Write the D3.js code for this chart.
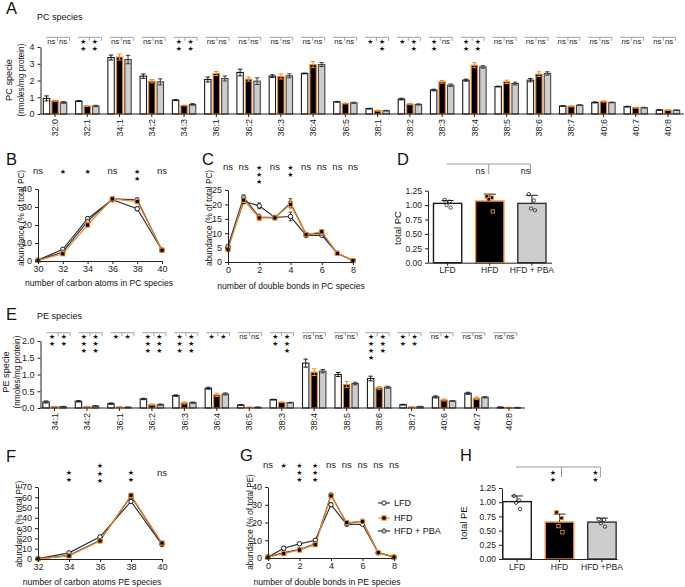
<!DOCTYPE html>
<html><head><meta charset="utf-8">
<script src="https://cdn.jsdelivr.net/npm/d3@7"></script>
<style>
body{margin:0;background:#fff;}
svg{font-family:"Liberation Sans",Arial,Helvetica,sans-serif;}
</style></head><body><svg id="c" width="685" height="587"></svg>
<script>
// ---------------- DATA ----------------
const groupKeys = ["LFD","HFD","PBA"];
const groupLabels = ["LFD","HFD","HFD + PBA"];
const groupLabelsH = ["LFD","HFD","HFD +PBA"];

// Panel A: PC species (nmoles/mg protein)
const pcSpecies = ["32:0","32:1","34:1","34:2","34:3","36:1","36:2","36:3","36:4","36:5","38:1","38:2","38:3","38:4","38:5","38:6","38:7","40:6","40:7","40:8"];
const pcLFD = [0.93,0.77,3.37,2.26,0.83,2.06,2.48,2.26,2.42,0.73,0.32,0.89,1.43,2.02,1.64,2.02,0.48,0.69,0.44,0.24];
const pcHFD = [0.79,0.48,3.40,1.96,0.51,2.42,2.08,2.24,2.95,0.63,0.20,0.59,1.92,2.91,1.92,2.38,0.46,0.75,0.38,0.23];
const pcPBA = [0.69,0.48,3.25,1.92,0.57,2.12,1.96,2.28,2.95,0.67,0.20,0.57,1.72,2.81,1.82,2.42,0.53,0.69,0.38,0.23];
const pcLFDErr = [0.15,0.03,0.15,0.13,0.03,0.15,0.2,0.08,0.02,0.02,0.02,0.05,0.05,0.06,0.02,0.1,0.02,0.03,0.02,0.02];
const pcHFDErr = [0.03,0.03,0.18,0.1,0.02,0.12,0.12,0.15,0.18,0.03,0.03,0.04,0.08,0.15,0.1,0.14,0.03,0.04,0.03,0.02];
const pcPBAErr = [0.05,0.04,0.25,0.18,0.05,0.15,0.2,0.12,0.12,0.03,0.02,0.03,0.07,0.07,0.08,0.1,0.02,0.02,0.02,0.01];
const pcSigL = ["ns","**","ns","ns","**","ns","ns","ns","ns","ns","*","*","**","**","ns","ns","ns","ns","ns","ns"];
const pcSigR = ["ns","**","ns","ns","**","ns","ns","ns","ns","ns","**","**","ns","**","ns","ns","ns","ns","ns","ns"];
const pcYTicks = [0,1,2,3,4];

// Panel B: PC by carbon atoms
const pcCarbon = [30,32,34,36,38,40];
const pcCarbonLFD = [0.5,6.5,23.5,34,29,6];
const pcCarbonHFD = [0.3,4,20,34.5,33,6];
const pcCarbonPBA = [0.4,5,22,34.5,34,6];
const pcCarbonErr = [0.2,0.6,1,0.6,1,0.3];
const pcCarbonSig = ["ns","*","*","ns","**","ns"];

// Panel C: PC by double bonds
const pcDB = [0,1,2,3,4,5,6,7,8];
const pcDBLFD = [5,21,19.5,15.5,15.8,9.2,9.3,3,0.5];
const pcDBHFD = [4.3,21.5,15.3,15.3,20,9.5,10.5,3,0.5];
const pcDBPBA = [5.5,22.5,15.6,15.4,20.5,9.6,10,3,0.5];
const pcDBErr = [0.5,0.8,1,0.4,1.5,0.5,0.5,0.3,0.2];
const pcDBSig = ["ns","ns","***","ns","**","ns","ns","ns","ns"];

// Panel D: total PC
const totalPC = [1.03,1.07,1.03];
const totalPCErr = [0.05,0.12,0.14];
const totalPCPts = [[1.09,1.06,1.00,0.955],[1.15,1.13,1.10,0.89],[1.19,1.08,0.94,0.91]];
const totalPCSig = ["ns","ns"];
const totalYTicks = [0,0.25,0.5,0.75,1.0,1.25];

// Panel E: PE species
const peSpecies = ["34:1","34:2","36:1","36:2","36:3","36:4","36:5","38:3","38:4","38:5","38:6","38:7","40:6","40:7","40:8"];
const peLFD = [0.18,0.20,0.13,0.27,0.37,0.59,0.09,0.25,1.34,1.00,0.88,0.10,0.33,0.44,0.02];
const peHFD = [0.04,0.04,0.03,0.10,0.15,0.39,0.02,0.17,1.07,0.70,0.60,0.03,0.24,0.29,0.01];
const pePBA = [0.04,0.06,0.02,0.10,0.16,0.42,0.02,0.16,1.10,0.73,0.62,0.04,0.21,0.32,0.01];
const peLFDErr = [0.03,0.02,0.02,0.02,0.02,0.03,0.01,0.01,0.12,0.06,0.07,0.01,0.03,0.03,0.01];
const peHFDErr = [0.01,0.01,0.01,0.02,0.03,0.05,0.01,0.01,0.1,0.09,0.04,0.01,0.03,0.04,0.01];
const pePBAErr = [0.01,0.01,0.01,0.02,0.02,0.03,0.01,0.01,0.05,0.04,0.03,0.01,0.01,0.02,0.01];
const peSigL = ["**","***","*","***","***","*","ns","**","ns","ns","****","**","ns","ns","ns"];
const peSigR = ["**","***","*","***","***","*","ns","***","ns","ns","***","**","*","ns","ns"];
const peYTicks = [0,0.5,1.0,1.5,2.0];

// Panel F: PE by carbon atoms
const peCarbon = [32,34,36,38,40];
const peCarbonLFD = [0.3,6,21.5,56,14];
const peCarbonHFD = [0.2,3,17.5,62,15.5];
const peCarbonPBA = [0.2,3.5,18,61,15];
const peCarbonErr = [0.2,0.8,1,1.5,0.8];
const peCarbonSig = ["","**","***","**","ns"];

// Panel G: PE by double bonds
const peDB = [0,1,2,3,4,5,6,7,8];
const peDBLFD = [0.5,5.5,8,10,30,19,19,3,0.5];
const peDBHFD = [0.5,2.5,4.5,7.5,35,20,20.5,3,0.5];
const peDBPBA = [0.5,3,4.8,8,35.5,19.5,20.8,3,0.5];
const peDBErr = [0.2,1,0.5,0.5,1,0.5,0.5,0.3,0.2];
const peDBSig = ["ns","*","***","***","ns","ns","ns","ns","ns"];

// Panel H: total PE
const totalPE = [1.01,0.65,0.65];
const totalPEErr = [0.10,0.14,0.07];
const totalPEPts = [[1.11,1.03,0.99,0.88],[0.82,0.72,0.58,0.47],[0.70,0.69,0.63,0.57]];
const totalPESig = ["**","**"];

// ---------------- STYLE ----------------
const ORANGE = "#ef8a2c";
const ST = {
  LFD:{fill:"#fff", stroke:"#1a1a1a", line:"#333", err:"#1a1a1a", shape:"circle", ptFill:"#fff"},
  HFD:{fill:"#000", stroke:ORANGE, line:ORANGE, err:ORANGE, shape:"square", ptFill:"#000"},
  PBA:{fill:"#cdcdcd", stroke:"#444", line:"#3a3a3a", err:"#3a3a3a", shape:"circle", ptFill:"#bdbdbd"}
};
const svg = d3.select("#c");

function letter(t,x,y){ svg.append("text").attr("x",x).attr("y",y).attr("font-size",16.5).attr("fill","#111").text(t); }
function styleAxis(g,fs){
  g.selectAll("path,line").attr("stroke","#222").attr("stroke-width",1);
  g.selectAll("text").attr("font-size",fs||8.5).attr("fill","#222").attr("font-family",'"Liberation Sans",Arial,sans-serif');
}
function sigMark(g, label, cx, topY, fs, rowStep, starFs){
  if(!label) return;
  if(label==="ns"){
    g.append("text").attr("x",cx).attr("y",topY).attr("dy","0.35em").attr("text-anchor","middle")
      .attr("font-size",fs).attr("fill","#222").text("ns");
  } else {
    for(let i=0;i<label.length;i++){
      g.append("text").attr("x",cx).attr("y",topY+i*rowStep).attr("dy","0.36em").attr("text-anchor","middle")
        .attr("font-size",starFs).attr("fill","#111").attr("font-family","DejaVu Sans").text("\u2605");
    }
  }
}
function marker(g,k,x,y,size){
  const s=ST[k];
  if(s.shape==="square"){
    g.append("rect").attr("x",x-size).attr("y",y-size).attr("width",2*size).attr("height",2*size)
      .attr("fill",s.ptFill).attr("stroke",s.stroke).attr("stroke-width",1);
  } else {
    g.append("circle").attr("cx",x).attr("cy",y).attr("r",size).attr("fill",s.ptFill).attr("stroke",s.stroke).attr("stroke-width",1);
  }
}

// ---------------- SPECIES BAR PANELS ----------------
function speciesPanel(o){
  const g = svg.append("g");
  const x = d3.scaleBand().domain(o.cats).range(o.xRange);
  const y = d3.scaleLinear().domain(o.yDomain).range(o.yRange);
  const bw = 6.4, off = 8.5;
  groupKeys.forEach((k,ki)=>{
    const s = ST[k];
    o.cats.forEach((c,i)=>{
      const cx = x(c)+x.bandwidth()/2+(ki-1)*off;
      const v = o.vals[ki][i], e = o.errs[ki][i];
      g.append("line").attr("x1",cx).attr("x2",cx).attr("y1",y(v)).attr("y2",y(v+e)).attr("stroke",s.err).attr("stroke-width",1);
      g.append("line").attr("x1",cx-2.2).attr("x2",cx+2.2).attr("y1",y(v+e)).attr("y2",y(v+e)).attr("stroke",s.err).attr("stroke-width",1);
      g.append("rect").attr("x",cx-bw/2).attr("width",bw).attr("y",y(v)).attr("height",y(0)-y(v))
        .attr("fill",s.fill).attr("stroke",s.stroke).attr("stroke-width",1.1);
      g.append("line").attr("x1",cx).attr("x2",cx).attr("y1",y(v)).attr("y2",y(Math.max(0,v-e))).attr("stroke",s.err).attr("stroke-width",1);
      g.append("line").attr("x1",cx-2.2).attr("x2",cx+2.2).attr("y1",y(Math.max(0,v-e))).attr("y2",y(Math.max(0,v-e))).attr("stroke",s.err).attr("stroke-width",1);
    });
  });
  const ya = g.append("g").attr("transform",`translate(${o.axisX},0)`)
    .call(d3.axisLeft(y).tickValues(o.yTicks).tickSize(3).tickSizeOuter(0).tickFormat(o.fmt));
  styleAxis(ya,9);
  const xa = g.append("g").attr("transform",`translate(0,${o.yRange[0]})`)
    .call(d3.axisBottom(x).tickSize(3).tickSizeOuter(0));
  xa.select(".domain").remove();
  xa.selectAll(".tick text").attr("transform","rotate(-90)").attr("x",-5).attr("y",0).attr("dy","0.35em").style("text-anchor","end");
  styleAxis(xa,9);
  g.append("line").attr("x1",o.axisX).attr("x2",o.axisEnd).attr("y1",o.yRange[0]).attr("y2",o.yRange[0]).attr("stroke","#222");
  o.cats.forEach((c,i)=>{
    const ax = o.a0 + i*o.aStep, ay = o.aY, w = 23.5;
    g.append("path").attr("d",`M${ax},${ay}H${ax+w}V${ay+3.5}M${ax+11.5},${ay}V${ay+3.5}`)
      .attr("fill","none").attr("stroke","#9a9a9a").attr("stroke-width",0.9);
    sigMark(g,o.sigL[i],ax+5.3,ay+3.8,7.8,7,6.8);
    sigMark(g,o.sigR[i],ax+17,ay+3.8,7.8,7,6.8);
  });
  svg.append("text").attr("x",o.titleX).attr("y",o.titleY).attr("font-size",9).attr("fill","#111").text(o.title);
  [[o.yLab1,o.yLabX1,9.2],[o.yLab2,o.yLabX2,8.2]].forEach(([t,xx,fs])=>{
    svg.append("text").attr("transform",`translate(${xx},${o.yLabY}) rotate(-90)`).attr("text-anchor","middle")
      .attr("dy","0.35em").attr("font-size",fs).attr("fill","#111").text(t);
  });
}

speciesPanel({cats:pcSpecies, vals:[pcLFD,pcHFD,pcPBA], errs:[pcLFDErr,pcHFDErr,pcPBAErr],
  sigL:pcSigL, sigR:pcSigR, xRange:[38.9,684.1], yDomain:[0,4], yRange:[114,47], yTicks:pcYTicks, fmt:d3.format("d"),
  axisX:40.5, axisEnd:684, a0:46, aStep:31.9, aY:37.3, title:"PC species", titleX:37, titleY:20,
  yLab1:"PC specie", yLab2:"(nmoles/mg protein)", yLabX1:8.5, yLabX2:21.5, yLabY:80});

speciesPanel({cats:peSpecies, vals:[peLFD,peHFD,pePBA], errs:[peLFDErr,peHFDErr,pePBAErr],
  sigL:peSigL, sigR:peSigR, xRange:[38.3,525.2], yDomain:[0,2], yRange:[408,341], yTicks:peYTicks, fmt:d3.format(".1f"),
  axisX:40.5, axisEnd:525, a0:46.7, aStep:31.9, aY:332.7, title:"PE species", titleX:37, titleY:319,
  yLab1:"PE specie", yLab2:"(nmoles/mg protein)", yLabX1:5.5, yLabX2:17.5, yLabY:372});

// ---------------- LINE PANELS ----------------
function linePanel(o){
  const g = svg.append("g");
  const x = d3.scaleLinear().domain(o.xDomain).range(o.xRange);
  const y = d3.scaleLinear().domain(o.yDomain).range(o.yRange);
  const order = ["LFD","PBA","HFD"];
  const line = d3.line().x(d=>x(d[0])).y(d=>y(d[1]));
  order.forEach(k=>{
    const ki = groupKeys.indexOf(k), vals = o.series[ki];
    const pts = o.xs.map((xv,i)=>[xv,vals[i]]);
    g.append("path").attr("d",line(pts)).attr("fill","none").attr("stroke",ST[k].line).attr("stroke-width",1.2);
  });
  order.forEach(k=>{
    const ki = groupKeys.indexOf(k), vals = o.series[ki];
    o.xs.forEach((xv,i)=>{
      const e=o.err[i], cx=x(xv);
      g.append("path").attr("d",`M${cx-1.8},${y(vals[i]+e)}H${cx+1.8}M${cx},${y(vals[i]+e)}V${y(vals[i]-e)}M${cx-1.8},${y(vals[i]-e)}H${cx+1.8}`)
        .attr("stroke",ST[k].err).attr("stroke-width",0.9).attr("fill","none");
      marker(g,k,cx,y(vals[i]),k==="HFD"?2.1:2.2);
    });
  });
  const ya = g.append("g").attr("transform",`translate(${o.xRange[0]},0)`)
    .call(d3.axisLeft(y).tickValues(o.yTicks).tickSize(3).tickSizeOuter(0));
  styleAxis(ya,9);
  const xa = g.append("g").attr("transform",`translate(0,${o.yRange[0]})`)
    .call(d3.axisBottom(x).tickValues(o.xTicks).tickSize(3).tickSizeOuter(0).tickFormat(d3.format("d")));
  styleAxis(xa,9);
  xa.selectAll(".tick text").attr("y",4.5);
  o.sig.forEach((s,i)=>{
    if(!s) return;
    const top = o.sigY - (o.shift3 && s.length===3 ? 6.5 : 0);
    sigMark(g,s,x(o.xs[i]),top,9.5,7.2,7);
  });
  svg.append("text").attr("x",o.xTitleX).attr("y",o.xTitleY).attr("text-anchor","middle").attr("font-size",8.6).attr("fill","#111").text(o.xTitle);
  svg.append("text").attr("transform",`translate(${o.yTitleX},${o.yTitleY}) rotate(-90)`).attr("text-anchor","middle")
    .attr("dy","0.35em").attr("font-size",8.2).attr("fill","#111").text(o.yTitle);
}

linePanel({xs:pcCarbon, series:[pcCarbonLFD,pcCarbonHFD,pcCarbonPBA], err:pcCarbonErr, sig:pcCarbonSig,
  xDomain:[30,40], xRange:[38,162], yDomain:[0,40], yRange:[261,189], yTicks:[0,10,20,30,40], xTicks:pcCarbon,
  sigY:171, xTitle:"number of carbon atoms in PC species", xTitleX:99, xTitleY:286,
  yTitle:"abundance (% of total PC)", yTitleX:21, yTitleY:218});

linePanel({xs:pcDB, series:[pcDBLFD,pcDBHFD,pcDBPBA], err:pcDBErr, sig:pcDBSig,
  xDomain:[0,8], xRange:[228,353], yDomain:[0,25], yRange:[262,190], yTicks:[0,5,10,15,20,25], xTicks:[0,2,4,6,8],
  sigY:167, xTitle:"number of double bonds in PC species", xTitleX:291, xTitleY:289,
  yTitle:"abundance (% of  total PC)", yTitleX:209, yTitleY:218});

linePanel({xs:peCarbon, series:[peCarbonLFD,peCarbonHFD,peCarbonPBA], err:peCarbonErr, sig:peCarbonSig,
  xDomain:[32,40], xRange:[38,162], yDomain:[0,70], yRange:[559,487], yTicks:[0,10,20,30,40,50,60,70], xTicks:peCarbon,
  sigY:472.3, shift3:true, xTitle:"number of carbon atoms PE species", xTitleX:92, xTitleY:585,
  yTitle:"abundance (% total PE)", yTitleX:19.5, yTitleY:524});

linePanel({xs:peDB, series:[peDBLFD,peDBHFD,peDBPBA], err:peDBErr, sig:peDBSig,
  xDomain:[0,8], xRange:[268,394], yDomain:[0,40], yRange:[558,487], yTicks:[0,10,20,30,40], xTicks:[0,2,4,6,8],
  sigY:465, xTitle:"number of double bonds in PE species", xTitleX:327, xTitleY:585,
  yTitle:"abundance (% of total PE)", yTitleX:250, yTitleY:522});

// legend (panel G)
[["LFD",503],["HFD",518],["PBA",531]].forEach(([k,yy],i)=>{
  svg.append("line").attr("x1",378).attr("x2",390).attr("y1",yy).attr("y2",yy).attr("stroke",ST[k].line).attr("stroke-width",1.2);
  marker(svg,k,384,yy,k==="HFD"?2.1:2.2);
  svg.append("text").attr("x",394).attr("y",yy).attr("dy","0.35em").attr("font-size",9).attr("fill","#111").text(groupLabels[i]);
});

// ---------------- TOTAL BAR PANELS ----------------
function totalPanel(o){
  const g = svg.append("g");
  const x = d3.scaleBand().domain(o.labels).range(o.xRange).paddingInner(0.33).paddingOuter(o.po);
  const y = d3.scaleLinear().domain([0,1.25]).range(o.yRange);
  const jit = [-3,2,-1,3];
  groupKeys.forEach((k,ki)=>{
    const s=ST[k], x0=x(o.labels[ki]), cx=x0+x.bandwidth()/2, v=o.vals[ki], e=o.errs[ki];
    g.append("path").attr("d",`M${cx-6},${y(v+e)}H${cx+6}M${cx},${y(v+e)}V${y(v)}`).attr("stroke","#222").attr("stroke-width",1).attr("fill","none");
    g.append("rect").attr("x",x0).attr("width",x.bandwidth()).attr("y",y(v)).attr("height",y(0)-y(v))
      .attr("fill",s.fill).attr("stroke",k==="PBA"?"#333":s.stroke).attr("stroke-width",1.4);
    o.pts[ki].forEach((p,j)=>{
      const px=cx+jit[j];
      if(k==="HFD"){
        g.append("rect").attr("x",px-1.7).attr("y",y(p)-1.7).attr("width",3.4).attr("height",3.4).attr("fill","#000").attr("stroke",ORANGE).attr("stroke-width",0.9);
      } else {
        g.append("circle").attr("cx",px).attr("cy",y(p)).attr("r",1.7).attr("fill","none").attr("stroke","#222").attr("stroke-width",0.8);
      }
    });
  });
  const ya = g.append("g").attr("transform",`translate(${o.xRange[0]},0)`)
    .call(d3.axisLeft(y).tickValues(totalYTicks).tickSize(3).tickSizeOuter(0).tickFormat(d3.format(".2f")));
  styleAxis(ya,8.5);
  const xa = g.append("g").attr("transform",`translate(0,${o.yRange[0]})`)
    .call(d3.axisBottom(x).tickSize(3).tickSizeOuter(0));
  styleAxis(xa,8.5);
  xa.selectAll(".tick text").attr("y",4.5);
  const c = i=>x(o.labels[i])+x.bandwidth()/2;
  const d1=c(1)+o.dropDx, d2=c(2)-1.5;
  g.append("path").attr("d",`M${c(0)-1},${o.bY}H${d2}V${o.bY+10}M${d1},${o.bY}V${o.bY+10}`).attr("fill","none").attr("stroke","#999").attr("stroke-width",1);
  sigMark(g,o.sig[0],d1-8.5,o.sY,8.8,7.5,7);
  sigMark(g,o.sig[1],d2-5,o.sY,8.8,7.5,7);
  svg.append("text").attr("transform",`translate(${o.yTitleX},${o.yTitleY}) rotate(-90)`).attr("text-anchor","middle")
    .attr("dy","0.35em").attr("font-size",9.5).attr("fill","#111").text(o.yTitle);
}

totalPanel({labels:groupLabels, vals:totalPC, errs:totalPCErr, pts:totalPCPts, sig:totalPCSig,
  xRange:[428,551.5], po:0.13, yRange:[262.7,190.7], bY:164, sY:170.7, dropDx:-1, yTitle:"total PC", yTitleX:398, yTitleY:228});
totalPanel({labels:groupLabelsH, vals:totalPE, errs:totalPEErr, pts:totalPEPts, sig:totalPESig,
  xRange:[502,617], po:0.02, yRange:[559,488], bY:467, sY:472.3, dropDx:2, yTitle:"total PE", yTitleX:464, yTitleY:523});

letter("A",6,14); letter("B",6,165); letter("C",202,165); letter("D",397,165);
letter("E",6,320); letter("F",6,462); letter("G",240,461); letter("H",460,461);
</script></body></html>
